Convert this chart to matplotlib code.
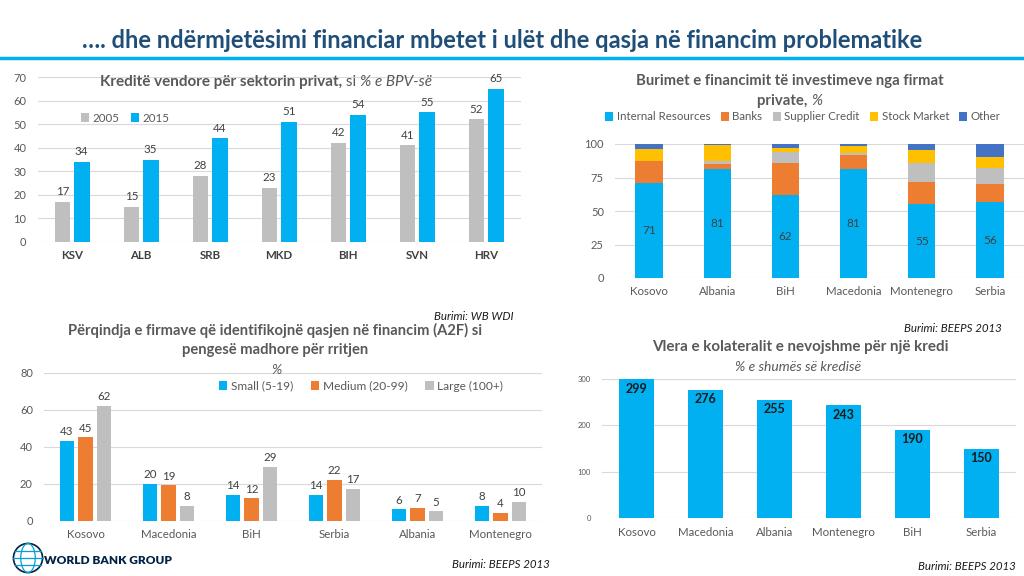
import numpy as np
import matplotlib
matplotlib.use('Agg')
import matplotlib.pyplot as plt
from matplotlib.patches import Circle, Ellipse

plt.rcParams['font.family'] = ['Lato', 'DejaVu Sans']

# Colours
BLUE = '#00b0f0'
GRAY = '#bfbfbf'
ORANGE = '#ed7d31'
YELLOW = '#ffc000'
DBLUE = '#4472c4'
GRID = '#d9d9d9'
TXT = '#595959'

# Chart 1: domestic credit to private sector, % of GDP
c1_cats = ['KSV', 'ALB', 'SRB', 'MKD', 'BIH', 'SVN', 'HRV']
c1_2005 = [17, 15, 28, 23, 42, 41, 52]
c1_2015 = [34, 35, 44, 51, 54, 55, 65]

# Chart 2: sources of investment financing, %
c2_cats = ['Kosovo', 'Albania', 'BiH', 'Macedonia', 'Montenegro', 'Serbia']
c2_internal = [71, 81, 62, 81, 55, 56.5]
c2_banks = [16, 4, 24, 11, 16.5, 14]
c2_supplier = [0.5, 2, 8, 1, 14, 11.5]
c2_stock = [8.5, 12, 3, 5.5, 10, 8]
c2_other = [4, 1, 3, 1.5, 4.5, 10]
c2_labels = [71, 81, 62, 81, 55, 56]

# Chart 3: firms identifying access to finance as major constraint, %
c3_cats = ['Kosovo', 'Macedonia', 'BiH', 'Serbia', 'Albania', 'Montenegro']
c3_small = [43, 20, 14, 14, 6, 8]
c3_medium = [45, 19, 12, 22, 7, 4]
c3_large = [62, 8, 29, 17, 5, 10]

# Chart 4: collateral value needed for a loan, % of loan amount
c4_cats = ['Kosovo', 'Macedonia', 'Albania', 'Montenegro', 'BiH', 'Serbia']
c4_vals = [299, 276, 255, 243, 190, 150]

W, H = 1024, 576
fig = plt.figure(figsize=(W / 100, H / 100), dpi=100)


def fx(px):
    return px / W


def fy(py):
    return 1 - py / H


def rich_text(x, y, pieces, size, color=TXT):
    # pieces: list of (text, weight, style), drawn centred at pixel (x, y)
    r = fig.canvas.get_renderer()
    objs = []
    widths = []
    for s, w, st in pieces:
        t = fig.text(0, fy(y), s, fontsize=size, fontweight=w, fontstyle=st,
                     color=color, va='center', ha='left')
        objs.append(t)
        widths.append(t.get_window_extent(r).width)
    start = x - sum(widths) / 2
    for t, wd in zip(objs, widths):
        t.set_x(fx(start))
        start += wd


def style_ax(ax, ticksize=8, catsize=8.3, catcolor=TXT, catweight='normal'):
    for s in ax.spines.values():
        s.set_visible(False)
    ax.grid(axis='y', color=GRID, lw=0.8)
    ax.set_axisbelow(True)
    ax.tick_params(length=0)
    ax.tick_params(axis='y', labelsize=ticksize, labelcolor=TXT, pad=8)
    ax.tick_params(axis='x', labelsize=catsize, labelcolor=catcolor, pad=6)
    for lb in ax.get_xticklabels():
        lb.set_fontweight(catweight)


def source(xr, yp, s):
    fig.text(fx(xr), fy(yp), s, fontsize=8.3, fontstyle='italic', ha='right', va='center', color='#1a1a1a')


# Header
fig.text(fx(502), fy(40), '…. dhe ndërmjetësimi financiar mbetet i ulët dhe qasja në financim problematike',
         fontsize=17, fontweight='bold', color='#1f4e79', ha='center', va='center')
fig.add_artist(plt.Line2D([0, 1], [fy(58), fy(58)], color=BLUE, lw=2.5))

# ---- Chart 1
ax1 = fig.add_axes([fx(37.5), fy(242), fx(483), fy(77) - fy(242)])
x = np.arange(len(c1_cats))
ax1.bar(x - 0.14, c1_2005, 0.22, color=GRAY, label='2005')
ax1.bar(x + 0.14, c1_2015, 0.23, color=BLUE, label='2015')
for i in range(len(x)):
    ax1.text(x[i] - 0.14, c1_2005[i] + 2, str(c1_2005[i]), ha='center', va='bottom', fontsize=8.3, color='#404040')
    ax1.text(x[i] + 0.14, c1_2015[i] + 2, str(c1_2015[i]), ha='center', va='bottom', fontsize=8.3, color='#404040')
ax1.set_xlim(-0.5, 6.5)
ax1.set_ylim(0, 70)
ax1.set_yticks(range(0, 71, 10))
ax1.set_xticks(x)
ax1.set_xticklabels(c1_cats)
style_ax(ax1, catcolor='#404040', catweight='bold')
ax1.legend(loc='center', bbox_to_anchor=(fx(125), fy(118)), bbox_transform=fig.transFigure,
           ncol=2, frameon=False, fontsize=8.3, handlelength=0.7, handleheight=0.7,
           handletextpad=0.3, columnspacing=1.0, labelcolor=TXT)
rich_text(266, 82, [('Kreditë vendore për sektorin privat,', 'bold', 'normal'),
                    (' si ', 'normal', 'normal'), ('% e BPV-së', 'normal', 'italic')], 11)

# ---- Chart 2
ax2 = fig.add_axes([fx(615), fy(278), fx(409), fy(144) - fy(278)])
x = np.arange(len(c2_cats))
bottom = np.zeros(len(x))
series = [('Internal Resources', c2_internal, BLUE), ('Banks', c2_banks, ORANGE),
          ('Supplier Credit', c2_supplier, GRAY), ('Stock Market', c2_stock, YELLOW),
          ('Other', c2_other, DBLUE)]
for name, vals, col in series:
    ax2.bar(x, vals, 0.4, bottom=bottom, color=col, label=name)
    bottom += np.array(vals)
for i in range(len(x)):
    ax2.text(x[i], c2_internal[i] / 2, str(c2_labels[i]), ha='center', va='center', fontsize=8.5, color='#404040')
ax2.set_xlim(-0.5, 5.5)
ax2.set_ylim(0, 100)
ax2.set_yticks([0, 25, 50, 75, 100])
ax2.set_xticks(x)
ax2.set_xticklabels(c2_cats)
style_ax(ax2)
ax2.legend(loc='center', bbox_to_anchor=(fx(803), fy(117)), bbox_transform=fig.transFigure,
           ncol=5, frameon=False, fontsize=8.3, handlelength=0.7, handleheight=0.7,
           handletextpad=0.3, columnspacing=0.9, labelcolor=TXT)
rich_text(790, 81, [('Burimet e financimit të investimeve nga firmat', 'bold', 'normal')], 10.7)
rich_text(790, 101, [('private, ', 'bold', 'normal'), ('%', 'normal', 'italic')], 10.7)

# ---- Chart 3
ax3 = fig.add_axes([fx(44), fy(520.5), fx(498), fy(372.7) - fy(520.5)])
x = np.arange(len(c3_cats))
for off, vals, col, name in [(-0.223, c3_small, BLUE, 'Small (5-19)'),
                             (0, c3_medium, ORANGE, 'Medium (20-99)'),
                             (0.223, c3_large, GRAY, 'Large (100+)')]:
    ax3.bar(x + off, vals, 0.18, color=col, label=name)
    for i in range(len(x)):
        ax3.text(x[i] + off, vals[i] + 2, str(vals[i]), ha='center', va='bottom', fontsize=8.3, color='#404040')
ax3.set_xlim(-0.5, 5.5)
ax3.set_ylim(0, 80)
ax3.set_yticks(range(0, 81, 20))
ax3.set_xticks(x)
ax3.set_xticklabels(c3_cats)
style_ax(ax3)
ax3.legend(loc='center', bbox_to_anchor=(fx(361), fy(386)), bbox_transform=fig.transFigure,
           ncol=3, frameon=False, fontsize=8.6, handlelength=0.7, handleheight=0.7,
           handletextpad=0.3, columnspacing=1.5, labelcolor=TXT)
rich_text(275, 330, [('Përqindja e firmave që identifikojnë qasjen në financim (A2F) si', 'bold', 'normal')], 10.6)
rich_text(275, 350, [('pengesë madhore për rritjen', 'bold', 'normal')], 10.6)
rich_text(277, 370, [('%', 'normal', 'italic')], 10)

# ---- Chart 4
ax4 = fig.add_axes([fx(602), fy(518.3), fx(414), fy(379) - fy(518.3)])
x = np.arange(len(c4_cats))
ax4.bar(x, c4_vals, 0.5, color=BLUE)
for i in range(len(x)):
    ax4.text(x[i], c4_vals[i] - 7, str(c4_vals[i]), ha='center', va='top', fontsize=9,
             fontweight='bold', color='#1a1a1a')
ax4.set_xlim(-0.5, 5.5)
ax4.set_ylim(0, 300)
ax4.set_yticks([0, 100, 200, 300])
ax4.set_xticks(x)
ax4.set_xticklabels(c4_cats)
style_ax(ax4, ticksize=5.5)
rich_text(800, 347, [('Vlera e kolateralit e nevojshme për një kredi', 'bold', 'normal')], 10.9)
rich_text(798, 367, [('% e shumës së kredisë', 'normal', 'italic')], 10)

# Sources
source(514, 316, 'Burimi: WB WDI')
source(1002, 329, 'Burimi: BEEPS 2013')
source(550, 565, 'Burimi: BEEPS 2013')
source(1016, 567, 'Burimi: BEEPS 2013')

# World Bank Group logo (simplified)
lax = fig.add_axes([fx(10), fy(574), fx(36), fy(542) - fy(574)])
lax.set_xlim(-1.1, 1.1)
lax.set_ylim(-1.1, 1.1)
lax.set_aspect('equal')
lax.axis('off')
lax.add_patch(Circle((0, 0), 1, fill=False, ec='#002244', lw=1.2))
lax.add_patch(Ellipse((0, 0), 1.0, 2, fill=False, ec='#009fda', lw=0.9))
lax.plot([-1, 1], [0, 0], color='#009fda', lw=0.9)
lax.plot([-0.87, 0.87], [0.5, 0.5], color='#009fda', lw=0.9)
lax.plot([-0.87, 0.87], [-0.5, -0.5], color='#009fda', lw=0.9)
fig.text(fx(44), fy(560), 'WORLD BANK GROUP', fontsize=8.6, fontweight='heavy', color='#002244', ha='left', va='center')

fig.savefig('out.png', dpi=100)
